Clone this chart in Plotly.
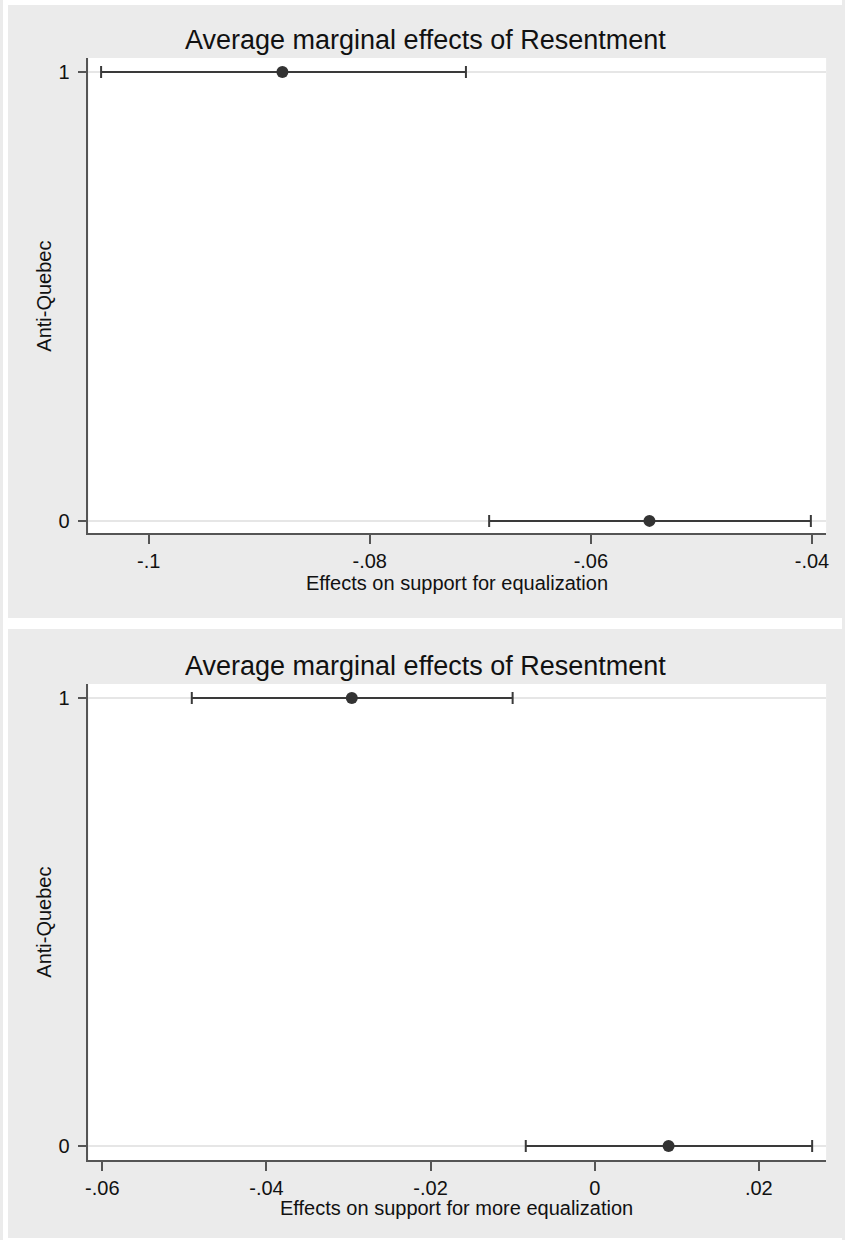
import plotly.graph_objects as go

W, H = 845, 1240

# ---- data ----
levels = [1, 0]
top_point = [-0.0879, -0.0547]
top_lower = [-0.1043, -0.0692]
top_upper = [-0.0713, -0.0401]
top_ticks = [-0.1, -0.08, -0.06, -0.04]
top_ticktext = ["-.1", "-.08", "-.06", "-.04"]

bot_point = [-0.0296, 0.0090]
bot_lower = [-0.0491, -0.0084]
bot_upper = [-0.0100, 0.0265]
bot_ticks = [-0.06, -0.04, -0.02, 0, 0.02]
bot_ticktext = ["-.06", "-.04", "-.02", "0", ".02"]

title_text = "Average marginal effects of Resentment"
ylabel = "Anti-Quebec"
top_xlabel = "Effects on support for equalization"
bot_xlabel = "Effects on support for more equalization"

FONT = "Liberation Sans, Arial, Helvetica, sans-serif"
TXT = "#111111"
BAR = "#3a3a3a"
GRAY = "#ebebeb"

def px(x):
    return x / W

def py(y):
    return 1 - y / H

fig = go.Figure()

for i, (pt, lo, up) in enumerate([(top_point, top_lower, top_upper),
                                  (bot_point, bot_lower, bot_upper)]):
    suffix = "" if i == 0 else "2"
    fig.add_trace(go.Scatter(
        x=pt, y=levels, mode="markers",
        xaxis="x" + suffix, yaxis="y" + suffix,
        marker=dict(size=12, color="#333333"),
        error_x=dict(type="data", symmetric=False,
                     array=[u - p for u, p in zip(up, pt)],
                     arrayminus=[p - l for l, p in zip(lo, pt)],
                     color=BAR, thickness=2, width=6),
        showlegend=False, cliponaxis=False,
    ))

axis_common = dict(
    showline=True, linecolor="#555555", linewidth=1.5,
    ticks="outside", ticklen=9, tickwidth=1.5, tickcolor="#555555",
    tickfont=dict(family=FONT, size=20, color=TXT),
    zeroline=False, mirror=False,
)

x0, x1 = px(86), px(829)
top_y = [py(533), py(58)]
bot_y = [py(1160), py(684)]

fig.update_layout(
    width=W, height=H,
    margin=dict(l=0, r=0, t=0, b=0),
    paper_bgcolor=GRAY, plot_bgcolor="white",
    xaxis=dict(domain=[x0, x1], anchor="y", range=[-0.10545, -0.03872],
               tickvals=top_ticks, ticktext=top_ticktext, showgrid=False,
               **axis_common),
    yaxis=dict(domain=top_y, anchor="x", range=[-0.027, 1.031],
               tickvals=[0, 1], ticktext=["0", "1"], showgrid=True,
               gridcolor="#e6e6e6", gridwidth=2, ticklabelstandoff=4,
               **axis_common),
    xaxis2=dict(domain=[x0, x1], anchor="y2", range=[-0.0617, 0.0282],
                tickvals=bot_ticks, ticktext=bot_ticktext, showgrid=False,
                **axis_common),
    yaxis2=dict(domain=bot_y, anchor="x2", range=[-0.031, 1.031],
                tickvals=[0, 1], ticktext=["0", "1"], showgrid=True,
                gridcolor="#e6e6e6", gridwidth=2, ticklabelstandoff=4,
                **axis_common),
)

# white borders / gap between the two grey panels
for (a, b, c, d) in [(0, 0, W, 5), (0, 0, 5, H), (0, 618, W, 629), (0, 1238, W, H)]:
    fig.add_shape(type="rect", xref="paper", yref="paper",
                  x0=px(a), x1=px(c), y0=py(d), y1=py(b),
                  fillcolor="white", line=dict(width=0), layer="below")

def ann(text, x, y, size, angle=0):
    fig.add_annotation(text=text, x=px(x), y=py(y), xref="paper", yref="paper",
                       showarrow=False, xanchor="center", yanchor="middle",
                       textangle=angle,
                       font=dict(family=FONT, size=size, color=TXT))

ann(title_text, 426, 40, 27)
ann(title_text, 426, 666, 27)
ann(top_xlabel, 457, 583, 20)
ann(bot_xlabel, 457, 1208, 20)
ann(ylabel, 41, 296, 20, -90)
ann(ylabel, 41, 922, 20, -90)

fig.write_html("out.html")
